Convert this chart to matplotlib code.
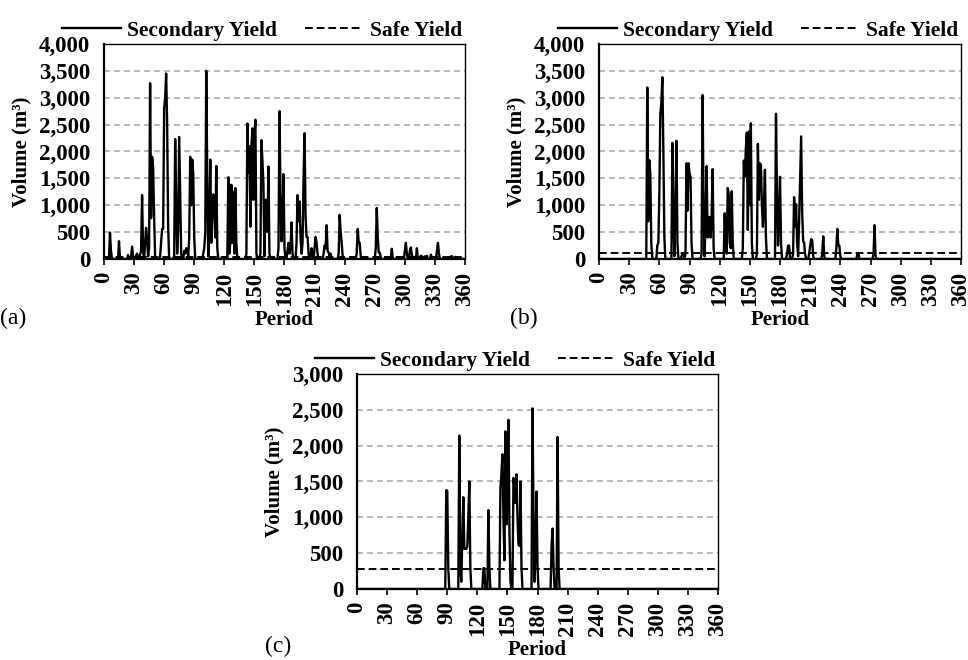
import matplotlib
matplotlib.use("Agg")
import matplotlib.pyplot as plt
import numpy as np
from matplotlib.ticker import FuncFormatter

plt.rcParams["font.family"] = ["Liberation Serif", "DejaVu Serif"]

# --- data (period -> volume m3, zero elsewhere) ---
a_periods = [5, 6, 7, 8, 14, 15, 16, 24, 27, 28, 29, 32, 33, 36, 37, 38, 39,
             41, 42, 43, 44, 45, 46, 47, 48, 49, 50, 51,
             56, 57, 58, 59, 60, 61, 62, 63, 64, 65,
             70, 71, 72, 73, 74, 75, 76, 77, 78, 80, 81, 82, 83, 84,
             85, 86, 87, 88, 89, 90, 91,
             99, 100, 101, 102, 103, 104, 105, 106, 107, 108, 109, 110, 111, 112, 113, 114,
             123, 124, 125, 126, 127, 128, 129, 130, 131, 132, 133,
             142, 143, 144, 145, 146, 147, 148, 149, 150, 151, 152, 153,
             156, 157, 158, 159, 160, 161, 162, 163, 164, 165, 166,
             174, 175, 176, 177, 178, 179, 180, 181,
             183, 184, 185, 186, 187, 188,
             192, 193, 194, 195, 196, 197, 198, 199, 200, 201, 202, 203, 204,
             206, 207, 208, 210, 211, 212, 213,
             219, 220, 221, 222, 223, 224, 225, 226,
             234, 235, 236, 237, 238, 252, 253, 254, 255, 256,
             271, 272, 273, 274, 275, 276, 287,
             300, 301, 302, 305, 306, 307, 312, 316, 317, 320, 322, 326,
             332, 333, 334, 346, 347, 350]
a_values = [0, 490, 150, 0, 0, 330, 0, 75, 20, 230, 50, 60, 100, 80, 150, 1190, 150,
            300, 580, 350, 50, 200, 3270, 760, 1900, 1700, 800, 50,
            50, 320, 560, 560, 2800, 3000, 3450, 2500, 600, 0,
            50, 2230, 1000, 100, 600, 2270, 1200, 100, 0, 150, 100, 200, 180, 50,
            400, 1900, 1000, 1850, 1600, 400, 0,
            100, 200, 500, 3500, 1500, 50, 600, 1850, 300, 900, 1200, 870, 400, 1730, 200, 0,
            50, 1520, 100, 300, 1380, 300, 1250, 100, 1320, 300, 0,
            100, 2520, 1600, 2100, 600, 2100, 2430, 1100, 2300, 2590, 100, 0,
            100, 2210, 1830, 1400, 50, 1100, 1100, 500, 1720, 100, 0,
            200, 2750, 1200, 330, 700, 1580, 200, 0,
            150, 300, 100, 200, 680, 100,
            300, 1190, 700, 1070, 400, 100, 300, 1500, 2340, 800, 410, 410, 100,
            50, 200, 50, 200, 410, 300, 100,
            100, 250, 200, 630, 150, 120, 50, 100,
            100, 820, 500, 300, 50, 100, 560, 300, 300, 50,
            200, 950, 400, 120, 120, 30, 190,
            150, 300, 100, 150, 215, 80, 200, 60, 50, 50, 60, 80,
            150, 300, 100, 50, 50, 40]

b_periods = [47, 48, 49, 50, 51, 52, 53,
             58, 59, 60, 61, 62, 63, 64, 65, 66,
             72, 73, 74, 75, 76, 77, 78, 79, 82, 83, 84,
             86, 87, 88, 89, 90, 91, 92, 93,
             102, 103, 104, 105, 106, 107, 108, 109, 110, 111, 112, 113, 114, 115,
             124, 125, 126, 127, 128, 129, 130, 131, 132, 133, 134,
             143, 144, 145, 146, 147, 148, 149, 150, 151, 152, 153,
             157, 158, 159, 160, 161, 162, 163, 164, 165, 166, 167,
             175, 176, 177, 178, 179, 180, 181, 182,
             187, 188, 189, 190,
             193, 194, 195, 196, 197, 198, 199, 200, 201, 202, 203, 204, 205, 206,
             209, 210, 211, 212, 213, 222, 223, 224,
             236, 237, 238, 239, 240, 257, 258, 273, 274, 275]
b_values = [0, 3190, 700, 1840, 1600, 300, 0,
            250, 300, 1200, 2700, 2900, 3380, 2000, 400, 0,
            0, 2160, 800, 50, 1000, 2200, 300, 0, 50, 100, 50,
            100, 1780, 900, 1780, 1600, 1530, 300, 0,
            100, 3050, 1000, 50, 800, 1730, 400, 780, 780, 400, 800, 1670, 200, 0,
            0, 850, 300, 100, 1320, 1200, 300, 200, 1260, 300, 0,
            200, 1830, 1530, 2050, 2350, 540, 2370, 1000, 2525, 300, 0,
            100, 2140, 1100, 1780, 1750, 1000, 600, 1030, 1660, 400, 0,
            0, 2700, 1200, 250, 800, 1530, 300, 0,
            100, 250, 250, 0,
            100, 1150, 600, 1020, 300, 50, 700, 1500, 2280, 900, 330, 300, 80, 0,
            100, 250, 370, 350, 50, 100, 420, 50,
            200, 560, 250, 250, 50, 110, 110, 100, 630, 50]

c_periods = [88, 89, 90, 91, 92,
             101, 102, 103, 104, 105, 106, 107, 108, 109, 110, 111, 112, 113, 114,
             125, 126, 127, 128, 130, 131, 132, 133,
             142, 143, 144, 145, 146, 147, 148, 149, 150, 151, 152, 153, 154,
             155, 156, 157, 158, 159, 160, 161, 162, 163, 164, 165,
             174, 175, 176, 177, 178, 179, 180, 181,
             193, 194, 195, 196, 197, 199, 200, 201, 202]
c_values = [0, 1380, 1370, 300, 0,
            0, 2140, 300, 100, 700, 1280, 560, 560, 560, 600, 1000, 1500, 300, 0,
            0, 290, 290, 0, 0, 1100, 300, 0,
            0, 1410, 1600, 1880, 1000, 400, 2200, 900, 1800, 2360, 800, 100, 0,
            0, 1550, 1400, 1200, 1600, 1000, 620, 600, 1500, 300, 0,
            0, 2520, 1000, 100, 600, 1360, 300, 0,
            0, 600, 843, 300, 0, 0, 2120, 300, 0]

safe_yield = [40, 110, 275]
panel_labels = ["(a)", "(b)", "(c)"]
y_max = [4000, 4000, 3000]

periods = np.arange(0, 361)


def build_series(pp, vv):
    s = np.zeros(len(periods))
    s[pp] = vv
    return s


series = [build_series(a_periods, a_values),
          build_series(b_periods, b_values),
          build_series(c_periods, c_values)]

fig = plt.figure(figsize=(9.68, 6.6), dpi=100)
rects = [[0.1074, 0.6076, 0.373, 0.3258],
         [0.6188, 0.6076, 0.374, 0.3258],
         [0.3688, 0.1076, 0.373, 0.3258]]
lab_pos = [(0.0, 0.518), (0.527, 0.518), (0.274, 0.02)]

fmt = FuncFormatter(lambda v, p: f"{int(v):,}")

for i in range(3):
    ax = fig.add_axes(rects[i])
    ax.plot(periods, series[i], color="black", lw=1.7, label="Secondary Yield", zorder=3)
    ax.axhline(safe_yield[i], color="black", lw=1.4, linestyle=(0, (4, 2)),
               label="Safe Yield", zorder=2)
    ax.set_xlim(0, 360)
    ax.set_ylim(0, y_max[i])
    ax.set_xticks(np.arange(0, 361, 30))
    ax.set_yticks(np.arange(0, y_max[i] + 1, 500))
    ax.yaxis.set_major_formatter(fmt)
    ax.yaxis.grid(True, color="#aaaaaa", linestyle=(0, (3.5, 2.5)), lw=1.2)
    ax.set_axisbelow(True)
    ax.tick_params(axis="x", direction="out", length=4, width=1.2, pad=5,
                   labelrotation=90, labelsize=16.5)
    ax.tick_params(axis="y", length=0, pad=10, labelsize=16.5)
    for t in ax.get_xticklabels() + ax.get_yticklabels():
        t.set_fontweight("bold")
    for s in ["left", "bottom"]:
        ax.spines[s].set_linewidth(1.6)
    for s in ["top", "right"]:
        ax.spines[s].set_linewidth(1.0)
    ax.set_xlabel("Period", fontsize=15, fontweight="bold", labelpad=3)
    ax.set_ylabel("Volume (m³)", fontsize=15, fontweight="bold", labelpad=5)
    ax.legend(loc="lower right", bbox_to_anchor=(1.0, 1.0), ncol=2, frameon=False,
              prop={"weight": "bold", "size": 15.5}, handlelength=2.7,
              handletextpad=0.3, columnspacing=1.3, borderpad=0.0, borderaxespad=0.15)
    fig.text(lab_pos[i][0], lab_pos[i][1], panel_labels[i], fontsize=17, va="center")

fig.savefig("out.png", dpi=100)
